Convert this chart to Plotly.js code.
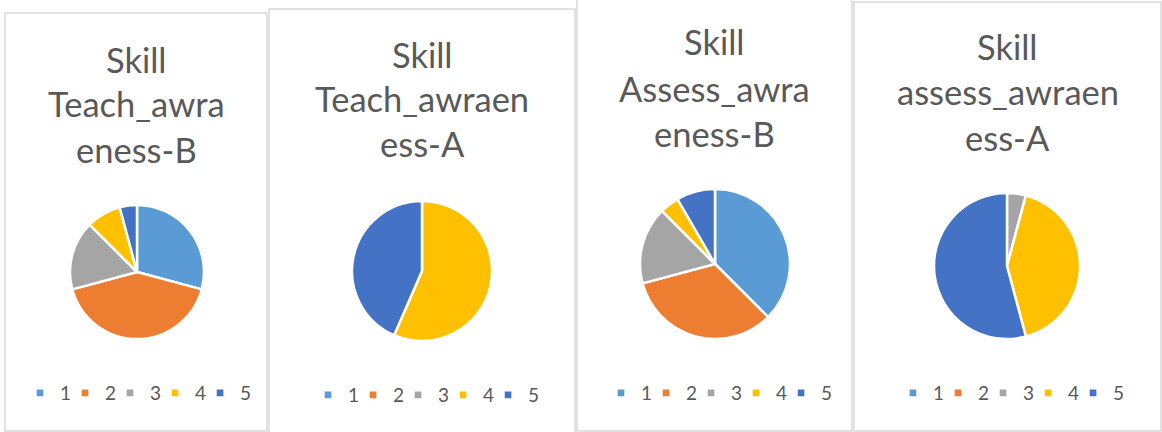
<!DOCTYPE html>
<html>
<head>
<meta charset="utf-8">
<script src="https://cdn.plot.ly/plotly-3.0.1.min.js"></script>
<style>html,body{margin:0;padding:0;background:#fff;}#chart{width:1162px;height:432px;}</style>
</head>
<body>
<div id="chart"></div>
<script>
// ---- data ----
const labels = ['1', '2', '3', '4', '5'];
const teachB = [7, 10, 4, 2, 1];
const teachA = [0, 0, 0, 13, 10];
const assessB = [9, 8, 4, 1, 2];
const assessA = [0, 0, 1, 10, 13];
const titleTeachB = ['Skill', 'Teach_awra', 'eness-B'];
const titleTeachA = ['Skill', 'Teach_awraen', 'ess-A'];
const titleAssessB = ['Skill', 'Assess_awra', 'eness-B'];
const titleAssessA = ['Skill', 'assess_awraen', 'ess-A'];
const colors = ['#5B9BD5', '#ED7D31', '#A5A5A5', '#FFC000', '#4472C4'];

// ---- layout (pixels) ----
const W = 1162, H = 432;
const panels = [
  {box: [5, 13, 267, 431], pie: [137, 272, 67], titleY: [70, 115, 160], legL: 20, legY: 393, values: teachB, title: titleTeachB},
  {box: [269, 9, 575, 434], pie: [422, 271, 70], titleY: [65, 110, 155], legL: 308, legY: 395, values: teachA, title: titleTeachA},
  {box: [577, -2, 852, 431], pie: [715, 264, 75], titleY: [53, 99, 145], legL: 601, legY: 393, values: assessB, title: titleAssessB},
  {box: [854, 2, 1161, 431], pie: [1007, 266, 73], titleY: [57, 102, 148], legL: 893, legY: 393, values: assessA, title: titleAssessA}
];
const px = x => x / W;
const py = y => 1 - y / H;

const FONT = 'Lato, "Open Sans", sans-serif';
const TXT = '#595959';

const data = [];
const shapes = [];
const annotations = [];
const layout = {
  width: W, height: H,
  margin: {l: 0, r: 0, t: 0, b: 0},
  paper_bgcolor: '#ffffff',
  plot_bgcolor: '#ffffff',
  font: {family: FONT, color: TXT},
  showlegend: true
};

panels.forEach((p, i) => {
  const [cx, cy, r] = p.pie;
  const legName = i === 0 ? 'legend' : 'legend' + (i + 1);
  // invisible suffix keeps each chart's legend entries separate
  const traceLabels = labels.map(l => l + '\u200b'.repeat(i));
  data.push({
    type: 'pie',
    labels: traceLabels,
    values: p.values,
    sort: false,
    direction: 'clockwise',
    rotation: 0,
    textinfo: 'none',
    hoverinfo: 'label+value+percent',
    marker: {colors: colors, line: {color: '#ffffff', width: 2.5}},
    domain: {x: [px(cx - r), px(cx + r)], y: [py(cy + r), py(cy - r)]},
    legend: legName,
    showlegend: true
  });
  layout[legName] = {
    orientation: 'h',
    x: px(p.legL), xanchor: 'left',
    y: py(p.legY), yanchor: 'middle',
    font: {family: FONT, size: 19, color: TXT},
    bgcolor: 'rgba(0,0,0,0)',
    traceorder: 'normal',
    itemwidth: 30,
    entrywidth: 0.01
  };
  shapes.push({
    type: 'rect', xref: 'paper', yref: 'paper',
    x0: px(p.box[0]), x1: px(p.box[2]), y0: py(p.box[3]), y1: py(p.box[1]),
    line: {color: '#d9d9d9', width: 1.5}, fillcolor: 'rgba(0,0,0,0)'
  });
  p.title.forEach((t, k) => {
    annotations.push({
      xref: 'paper', yref: 'paper',
      x: px((p.box[0] + p.box[2]) / 2), xanchor: 'center',
      y: py(p.titleY[k] - 11), yanchor: 'middle',
      text: t, showarrow: false,
      font: {family: FONT, size: 34.5, color: TXT}
    });
  });
});
layout.shapes = shapes;
layout.annotations = annotations;

Plotly.newPlot('chart', data, layout, {displayModeBar: false, staticPlot: true}).then(gd => {
  // let the last legend label of every legend show fully
  gd.querySelectorAll('.infolayer > g[class^="legend"] [clip-path], .infolayer > g[class^="legend"][clip-path]')
    .forEach(el => el.removeAttribute('clip-path'));
  // smaller legend swatches, like the original's
  gd.querySelectorAll('.legendpoints path').forEach(el => {
    const t = el.getAttribute('transform') || '';
    el.setAttribute('transform', t + ' scale(0.7)');
  });
});
</script>
</body>
</html>
